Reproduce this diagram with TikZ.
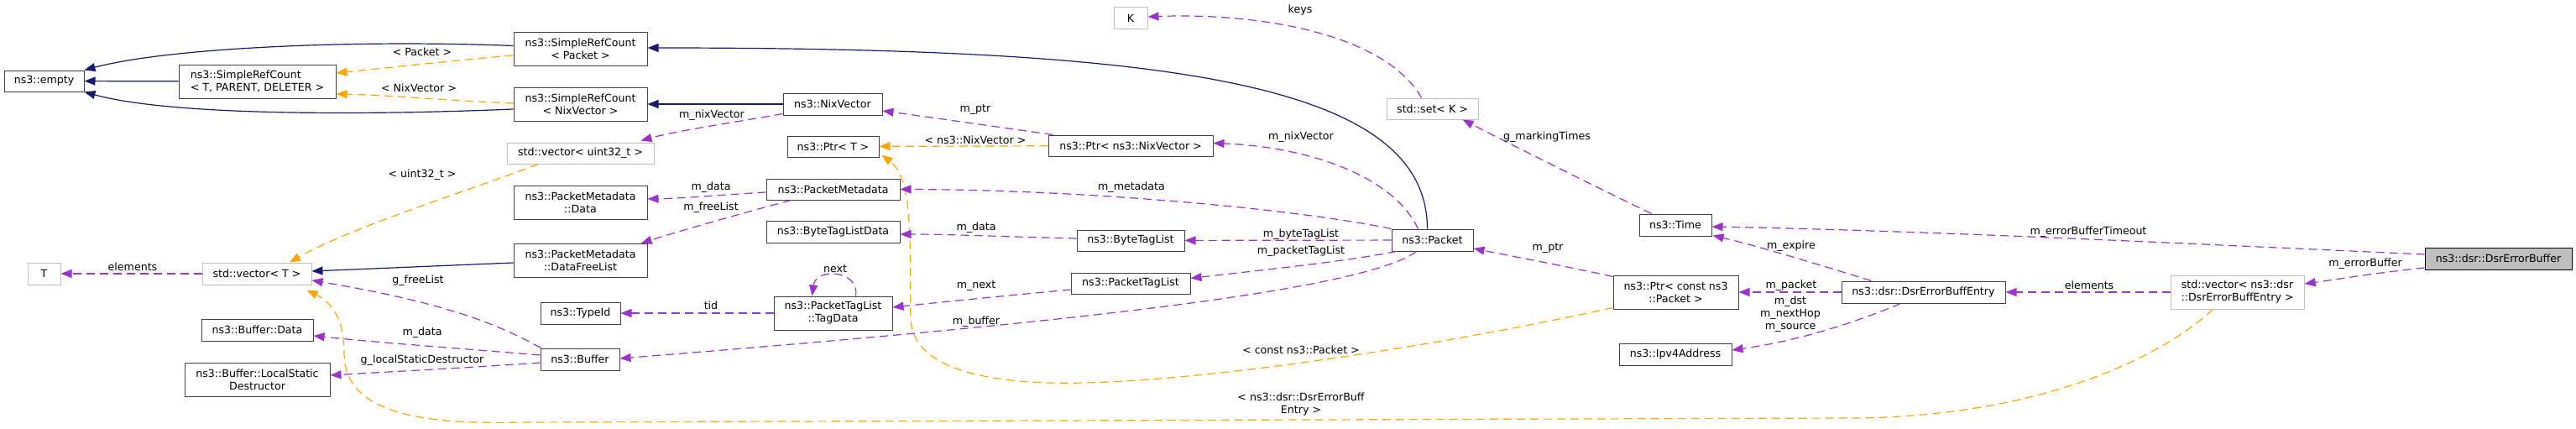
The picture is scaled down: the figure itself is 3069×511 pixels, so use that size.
\documentclass[tikz,border=0pt]{standalone}
\usepackage{fontspec}
\setmainfont{DejaVu Sans}
\usetikzlibrary{arrows.meta,calc}
\definecolor{navyc}{HTML}{191970}
\definecolor{purplec}{HTML}{9A32CD}
\definecolor{orangec}{HTML}{FFA500}
\definecolor{docborder}{HTML}{404040}
\definecolor{undocborder}{HTML}{BFBFBF}
\definecolor{rootfill}{HTML}{BFBFBF}
\newcommand\dvfont{\fontsize{12.6}{15}\selectfont}
\tikzset{
  doc/.style={draw=docborder, line width=1pt, rectangle, inner sep=0pt, align=center, font=\dvfont},
  undoc/.style={doc, draw=undocborder},
  rootn/.style={doc, draw=black, fill=rootfill},
  tipx/.style={-{Triangle[length=13pt,width=10pt]}},
  inh/.style={draw=navyc, line width=1.2pt, tipx, fill=none},
  use/.style={draw=purplec, line width=1.2pt, dash pattern=on 10pt off 6pt, tipx},
  tmpl/.style={draw=orangec, line width=1.2pt, dash pattern=on 10pt off 6pt, tipx},
  lbl/.style={inner sep=0pt, align=center, font=\dvfont},
}
\begin{document}
\begin{tikzpicture}[x=1pt,y=-1pt]
\useasboundingbox (0,0) rectangle (3069,511);
% nodes
\node[doc, minimum width=95pt, minimum height=25pt] (empty) at (52.5,96.5) {ns3::empty};
\node[doc, align=left, minimum width=187pt, minimum height=40pt] (srcT) at (306.5,97) {ns3::SimpleRefCount\\< T, PARENT, DELETER >};
\node[doc, minimum width=159pt, minimum height=40pt] (srcP) at (691.5,58.5) {ns3::SimpleRefCount\\< Packet >};
\node[doc, minimum width=159pt, minimum height=40pt] (srcN) at (691.5,124) {ns3::SimpleRefCount\\< NixVector >};
\node[doc, minimum width=118pt, minimum height=26pt] (nix) at (992,124) {ns3::NixVector};
\node[undoc, minimum width=175pt, minimum height=25pt] (vecU) at (691.5,182.5) {std::vector< uint32\_t >};
\node[doc, minimum width=109pt, minimum height=25pt] (ptrT) at (992.5,174.5) {ns3::Ptr< T >};
\node[doc, minimum width=159pt, minimum height=25pt] (pm) at (992.5,225.5) {ns3::PacketMetadata};
\node[doc, minimum width=159pt, minimum height=40pt] (pmData) at (691.5,241) {ns3::PacketMetadata\\::Data};
\node[doc, minimum width=159pt, minimum height=40pt] (pmFree) at (691.5,310.5) {ns3::PacketMetadata\\::DataFreeList};
\node[doc, minimum width=159pt, minimum height=26pt] (btlData) at (992.5,276) {ns3::ByteTagListData};
\node[doc, minimum width=95pt, minimum height=26pt] (typeId) at (691.5,373) {ns3::TypeId};
\node[doc, minimum width=141pt, minimum height=40pt] (tagData) at (992.5,373) {ns3::PacketTagList\\::TagData};
\node[doc, minimum width=94pt, minimum height=26pt] (buffer) at (691,428) {ns3::Buffer};
\node[undoc, minimum width=39pt, minimum height=26pt] (T) at (52.5,326) {T};
\node[undoc, minimum width=130pt, minimum height=26pt] (vecT) at (306,326) {std::vector< T >};
\node[doc, minimum width=133pt, minimum height=26pt] (bufData) at (306.5,393) {ns3::Buffer::Data};
\node[doc, minimum width=173pt, minimum height=40pt] (lsd) at (306.5,452) {ns3::Buffer::LocalStatic\\Destructor};
\node[undoc, minimum width=40pt, minimum height=26pt] (K) at (1347,22) {K};
\node[doc, minimum width=196pt, minimum height=25pt] (ptrNix) at (1347,173.5) {ns3::Ptr< ns3::NixVector >};
\node[doc, minimum width=128pt, minimum height=25pt] (btl) at (1347,286.5) {ns3::ByteTagList};
\node[doc, minimum width=142pt, minimum height=25pt] (ptl) at (1347,337.5) {ns3::PacketTagList};
\node[doc, minimum width=97pt, minimum height=26pt] (packet) at (1706.5,286) {ns3::Packet};
\node[undoc, minimum width=109pt, minimum height=25pt] (setK) at (1706.5,129.5) {std::set< K >};
\node[doc, minimum width=149pt, minimum height=40pt] (ptrCP) at (1996.5,348) {ns3::Ptr< const ns3\\::Packet >};
\node[doc, minimum width=86pt, minimum height=26pt] (time) at (1996,268) {ns3::Time};
\node[doc, minimum width=134pt, minimum height=26pt] (ipv4) at (1996,422) {ns3::Ipv4Address};
\node[doc, minimum width=195pt, minimum height=26pt] (entry) at (2291.5,348) {ns3::dsr::DsrErrorBuffEntry};
\node[undoc, minimum width=159pt, minimum height=40pt] (vecE) at (2665.5,348) {std::vector< ns3::dsr\\::DsrErrorBuffEntry >};
\node[rootn, minimum width=175pt, minimum height=26pt] (root) at (2976.5,308) {ns3::dsr::DsrErrorBuffer};
% inheritance
\draw[inh] (srcT) -- (empty);
\draw[inh] ($(srcP.west)+(0,-4)$) .. controls (420,47) and (200,57) .. (empty.north east);
\draw[inh] ($(srcN.west)+(0,6)$) .. controls (420,138) and (200,137) .. (empty.south east);
\draw[inh] (nix) -- (srcN);
\draw[inh] ($(packet.north)+(-6,0)$) .. controls (1700,100) and (1400,57) .. ($(srcP.east)+(0,-1.5)$);
\draw[inh] ($(pmFree.west)+(0,2.5)$) -- ($(vecT.east)+(0,-3)$);
% template instances
\draw[tmpl] ($(srcP.west)+(0,7.5)$) .. controls (540,72) and (470,80) .. ($(srcT.east)+(0,-10)$);
\draw[tmpl] ($(srcN.west)+(0,-1)$) .. controls (520,119) and (460,113) .. ($(srcT.east)+(0,15)$);
\draw[tmpl] (ptrNix) -- (ptrT);
\draw[tmpl] ($(ptrCP.south west)+(0,-2)$) .. controls (1700,415) and (1400,460) .. (1250,456) .. controls (1150,453) and (1087,430) .. (1085,380) .. controls (1083,300) and (1090,215) .. ($(ptrT.south east)+(3,-3)$);
\draw[tmpl] ($(vecE.south)+(-29,0)$) .. controls (2570,430) and (2420,498) .. (2200,498) -- (620,503) .. controls (450,508) and (410,470) .. (410,420) .. controls (410,380) and (395,360) .. ($(vecT.south east)+(-6,6)$);
\draw[tmpl] ($(vecU.south west)+(38,0)$) .. controls (550,230) and (420,270) .. ($(vecT.north)+(39,0)$);
% usage
\draw[use] ($(nix.south west)+(0,-2)$) .. controls (880,145) and (810,155) .. ($(vecU.north east)+(-16,-2)$);
\draw[use] ($(ptrNix.north west)+(6,0)$) .. controls (1180,150) and (1110,140) .. ($(nix.east)+(0,8)$);
\draw[use] ($(packet.north)+(-17,0)$) .. controls (1660,210) and (1560,175) .. ($(ptrNix.east)+(0,-3)$);
\draw[use] (packet.north west) .. controls (1550,250) and (1300,226) .. (pm.east);
\draw[use] (packet) -- (btl);
\draw[use] ($(packet.south west)+(6,0)$) .. controls (1600,312) and (1500,322) .. ($(ptl.east)+(0,-6)$);
\draw[use] ($(packet.south)+(-19,0)$) .. controls (1620,350) and (1200,390) .. ($(buffer.east)+(0,-1)$);
\draw[use] ($(ptrCP.north west)+(0,2)$) .. controls (1870,318) and (1800,305) .. ($(packet.east)+(0,10)$);
\draw[use] ($(time.north west)+(15,0)$) .. controls (1900,222) and (1800,172) .. ($(setK.south)+(36,0)$);
\draw[use] ($(setK.north)+(-13,0)$) .. controls (1650,40) and (1500,15) .. ($(K.east)+(0,-2)$);
\draw[use] ($(root.west)+(0,-5)$) .. controls (2600,290) and (2300,275) .. ($(time.east)+(0,2)$);
\draw[use] ($(root.west)+(0,11)$) .. controls (2830,325) and (2790,332) .. ($(vecE.east)+(0,-10)$);
\draw[use] (vecE) -- (entry);
\draw[use] ($(entry.north west)+(36,0)$) .. controls (2160,313) and (2090,292) .. ($(time.south east)+(1,-1)$);
\draw[use] (entry) -- (ptrCP);
\draw[use] ($(entry.south)+(-27,0)$) .. controls (2220,380) and (2150,405) .. ($(ipv4.east)+(0,-5)$);
\draw[use] ($(pm.west)+(0,3.5)$) .. controls (860,232) and (820,236) .. ($(pmData.east)+(0,-4)$);
\draw[use] ($(pm.south west)+(30,0)$) .. controls (880,255) and (800,278) .. ($(pmFree.north east)+(-8,0)$);
\draw[use] ($(buffer.north west)+(1,0)$) .. controls (600,390) and (540,362) .. ($(vecT.east)+(0,8)$);
\draw[use] ($(buffer.west)+(0,-5)$) .. controls (560,416) and (450,408) .. ($(bufData.east)+(0,7)$);
\draw[use] ($(buffer.west)+(0,4)$) .. controls (560,438) and (460,443) .. ($(lsd.east)+(0,-5)$);
\draw[use] (tagData) -- (typeId);
\draw[use] ($(tagData.north)+(27,0)$) .. controls (1025,322) and (972,318) .. ($(tagData.north)+(-25,0)$);
\draw[use] ($(ptl.west)+(0,7.5)$) .. controls (1200,352) and (1120,360) .. ($(tagData.east)+(0,-7)$);
\draw[use] ($(btl.west)+(0,-2.5)$) .. controls (1200,282) and (1130,279) .. ($(btlData.east)+(0,3)$);
\draw[use] (vecT) -- (T);
% labels
\node[lbl] (l1) at (503,62) {< Packet >};
\node[lbl] (l2) at (499,105) {< NixVector >};
\node[lbl] (l3) at (848,137) {m\_nixVector};
\node[lbl] (l4) at (1162,131) {m\_ptr};
\node[lbl] (l5) at (1162,167) {< ns3::NixVector >};
\node[lbl] (l6) at (1550,163) {m\_nixVector};
\node[lbl] (l7) at (1348,223) {m\_metadata};
\node[lbl] (l8) at (1550,279) {m\_byteTagList};
\node[lbl] (l9) at (1550,299) {m\_packetTagList};
\node[lbl] (l10) at (1163,383) {m\_buffer};
\node[lbl] (l11) at (1844,296) {m\_ptr};
\node[lbl] (l12) at (1550,417) {< const ns3::Packet >};
\node[lbl] (l13) at (1843,163) {g\_markingTimes};
\node[lbl] (l14) at (1549,12) {keys};
\node[lbl] (l15) at (2488,276) {m\_errorBufferTimeout};
\node[lbl] (l16) at (2818,314) {m\_errorBuffer};
\node[lbl] (l17) at (2489,340) {elements};
\node[lbl] (l18) at (2134,293) {m\_expire};
\node[lbl] (l19) at (2134,340) {m\_packet};
\node[lbl] (l20) at (2133,374) {m\_dst\\m\_nextHop\\m\_source};
\node[lbl] (l21) at (1550,482) {< ns3::dsr::DsrErrorBuff\\Entry >};
\node[lbl] (l22) at (503,208) {< uint32\_t >};
\node[lbl] (l23) at (847,223) {m\_data};
\node[lbl] (l24) at (847,247) {m\_freeList};
\node[lbl] (l25) at (498,334) {g\_freeList};
\node[lbl] (l26) at (503,396) {m\_data};
\node[lbl] (l27) at (503,429) {g\_localStaticDestructor};
\node[lbl] (l28) at (847,364) {tid};
\node[lbl] (l29) at (995,320) {next};
\node[lbl] (l30) at (1163,341) {m\_next};
\node[lbl] (l31) at (1163,271) {m\_data};
\node[lbl] (l32) at (158,318) {elements};
\end{tikzpicture}
\end{document}
